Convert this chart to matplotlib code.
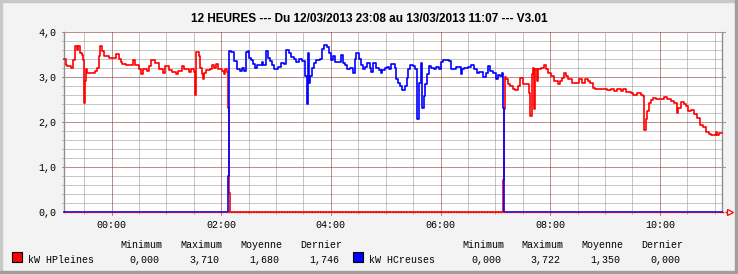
import numpy as np
import matplotlib.pyplot as plt
from matplotlib.patches import Rectangle

# --- Data (minutes since 12/03/2013 23:08, kW) ---
start_min = -52          # 23:08 relative to midnight
span_min = 720

hp_t = [0, 2, 3.6, 7.3, 9.5, 11.7, 13.9, 15.3, 17.5, 19.7, 20.8, 21.5, 22.6, 23.7, 25.5,
        34.3, 36.5, 38.0, 39.4, 41.6, 43.8, 48.9, 57.0, 60.6, 62.0, 63.5, 67.9, 75.2, 78.1,
        81.7, 84.7, 86.1, 91.2, 92.7, 95.6, 100.0, 103.6, 108.0, 111.0, 114.6, 118.2, 122.6,
        124.8, 129.2, 131.4, 136.5, 138.7, 142.0, 143.1, 144.5, 147.7, 148.4, 151.3, 152.4,
        153.5, 155.7, 159.4, 161.6, 163.7, 165.9, 168.1, 172.5, 174.7, 176.2, 178.7, 179.8,
        180.8, 182.0,
        480.6, 481.6, 482.2, 483.7, 485.5, 488.4, 491.0, 493.5, 496.5, 499.4, 502.3, 506.0,
        509.2, 510.3, 511.8, 513.2, 514.0, 515.4, 517.6, 519.1, 522.0, 524.9, 527.5, 530.0,
        533.0, 536.6, 540.3, 543.2, 544.6, 546.8, 549.4, 551.9, 555.6, 560.3, 564.0, 566.5,
        570.2, 573.1, 576.0, 578.6, 581.1, 585.4, 590.9, 594.5, 598.2, 601.8, 605.5, 609.1,
        612.0, 614.6, 620.1, 623.0, 627.4, 631.0, 633.2, 634.7, 636.5, 638.3, 640.1, 642.7,
        644.9, 647.4, 652.9, 656.5, 660.2, 663.9, 667.5, 670.4, 672.2, 674.8, 678.5, 680.3,
        682.8, 686.5, 689.4, 692.3, 696.0, 699.6, 702.5, 705.8, 707.6, 713.1, 714.9, 716.8,
        720]
hp_kw = [3.41, 3.26, 3.24, 3.20, 3.38, 3.69, 3.60, 3.69, 3.54, 3.48, 3.38, 2.43, 2.91, 3.17, 3.10,
         3.14, 3.21, 3.47, 3.69, 3.58, 3.47, 3.43, 3.52, 3.41, 3.33, 3.28, 3.26, 3.38, 3.26,
         3.17, 3.07, 3.17, 3.14, 3.24, 3.38, 3.32, 3.18, 3.08, 3.24, 3.16, 3.11, 3.06,
         3.13, 3.24, 3.17, 3.11, 3.17, 3.11, 2.61, 3.56, 3.47, 3.21, 3.06, 2.96,
         3.10, 3.16, 3.17, 3.26, 3.21, 3.30, 3.17, 3.13, 3.06, 3.17, 3.11, 2.32,
         0.42, 0.0,
         0.72, 2.30, 3.01, 2.95, 2.84, 2.79, 2.74, 2.71, 2.80, 2.98, 2.84, 2.84,
         2.65, 2.13, 3.06, 3.21, 2.28, 3.17, 2.91, 3.17, 3.21, 3.26, 3.17, 3.10,
         3.02, 2.91, 2.84, 2.91, 2.98, 3.10, 3.02, 2.96, 2.87, 2.87, 2.95, 2.86,
         2.95, 2.91, 2.87, 2.76, 2.73, 2.73, 2.74, 2.71, 2.73, 2.69, 2.73, 2.69,
         2.74, 2.67, 2.65, 2.61, 2.64, 2.61, 2.58, 1.82, 2.06, 2.25, 2.43, 2.50,
         2.54, 2.52, 2.52, 2.56, 2.52, 2.47, 2.43, 2.21, 2.32, 2.45, 2.39, 2.36,
         2.25, 2.27, 2.17, 2.10, 1.93, 1.88, 1.77, 1.73, 1.71, 1.77, 1.71, 1.746,
         1.746]

hc_t = [0, 179.6, 180.5, 182.7, 186.4, 189.3, 192.6, 195.1, 197.3, 198.8, 201.0, 202.4, 204.6,
        207.2, 209.0, 210.8, 216.3, 218.1, 220.7, 222.9, 225.4, 228.0, 230.2, 234.6, 237.5,
        241.1, 242.6, 246.2, 248.4, 251.3, 254.3, 257.2, 260.8, 263.8, 265.6, 266.7, 268.1,
        269.6, 271.1, 273.2, 275.4, 280.2, 282.7, 284.9, 287.5, 290.0, 292.6, 294.7, 296.2,
        302.8, 305.3, 307.9, 310.1, 312.6, 316.3, 318.1, 319.9, 322.5, 325.4, 327.2, 329.8,
        331.9, 334.5, 336.4, 338.2, 341.8, 344.4, 346.6, 348.0, 351.0, 353.9, 355.3, 358.3,
        361.9, 363.7, 365.5, 367.4, 369.9, 372.9, 375.0, 376.5, 378.3, 382.0, 384.5, 386.7,
        388.2, 390.4, 391.8, 394.0, 395.5, 397.7, 399.5, 402.1, 405.0, 407.5, 410.1, 412.3,
        414.8, 421.0, 423.2, 429.4, 434.2, 435.0, 437.3, 439.9, 441.7, 445.4, 449.0, 451.9,
        454.5, 458.1, 461.8, 464.3, 466.5, 469.1, 472.7, 475.3, 477.5, 478.9, 480.4, 481.1,
        720]
hc_kw = [0.0, 0.79, 3.58, 3.56, 3.36, 3.17, 3.14, 3.21, 3.14, 3.56, 3.58, 3.43, 3.38,
         3.28, 3.21, 3.26, 3.33, 3.26, 3.58, 3.43, 3.36, 3.26, 3.17, 3.23, 3.32,
         3.30, 3.61, 3.53, 3.45, 3.39, 3.33, 3.39, 3.36, 3.02, 2.39, 3.54, 2.87,
         3.02, 3.21, 3.32, 3.38, 3.39, 3.63, 3.72, 3.67, 3.54, 3.38, 3.47, 3.33,
         3.50, 3.32, 3.26, 3.17, 3.19, 3.08, 3.39, 3.53, 3.41, 3.26, 3.17, 3.23,
         3.32, 3.21, 3.11, 3.32, 3.21, 3.16, 3.10, 3.16, 3.21, 3.23, 3.17, 3.30,
         3.21, 2.95, 2.87, 2.80, 2.71, 2.80, 2.98, 3.17, 3.26, 3.24, 3.17, 2.06,
         2.87, 3.32, 2.32, 2.58, 2.84, 3.06, 3.24, 3.21, 3.17, 3.23, 3.17, 3.33,
         3.38, 3.36, 3.17, 3.23, 3.06, 3.17, 3.21, 3.19, 3.23, 3.26, 3.17, 3.08,
         3.11, 3.01, 3.10, 3.24, 3.13, 3.10, 2.96, 3.04, 3.02, 3.10, 2.32, 0.0,
         0.0]

x_labels = ["00:00", "02:00", "04:00", "06:00", "08:00", "10:00"]
x_major = [0, 120, 240, 360, 480, 600]
y_major = [0, 1, 2, 3, 4]

title = "12 HEURES --- Du 12/03/2013 23:08 au 13/03/2013 11:07 --- V3.01"
stat_names = ["Minimum", "Maximum", "Moyenne", "Dernier"]
hp_stats = ["0,000", "3,710", "1,680", "1,746"]
hc_stats = ["0,000", "3,722", "1,350", "0,000"]

# --- Colours ---
back = "#f3f3f3"
mgrid = "#7f1e1e"
grid = "#8f8f8f"
mono = "Liberation Mono"

W, H = 738, 274
fig = plt.figure(figsize=(W / 100, H / 100), dpi=100, facecolor=back)

# frame shading
fig.patches.append(Rectangle((0, 0), 2 / W, 1, transform=fig.transFigure, color="#c8c8c8", zorder=0))
fig.patches.append(Rectangle((0, 1 - 2 / H), 1, 2 / H, transform=fig.transFigure, color="#c8c8c8", zorder=0))
fig.patches.append(Rectangle((1 - 3 / W, 0), 3 / W, 1, transform=fig.transFigure, color="#9e9e9e", zorder=0))
fig.patches.append(Rectangle((0, 0), 1, 3 / H, transform=fig.transFigure, color="#9e9e9e", zorder=0))

ax = fig.add_axes([64 / W, 62 / H, 658 / W, 180 / H])
ax.set_facecolor("white")
ax.set_xlim(start_min, start_min + span_min)
ax.set_ylim(0, 4)
for s in ax.spines.values():
    s.set_visible(False)

ytr = ax.get_yaxis_transform()
xtr = ax.get_xaxis_transform()
dx = 1 / 658
dy = 1 / 180
dots = dict(lw=0.72, ls=(0, (1, 1)), clip_on=False, snap=True)

# horizontal grid
for v in np.arange(0.2, 4.0, 0.2):
    if abs(v - round(v)) < 1e-6:
        continue
    ax.plot([-2 * dx, 1], [v, v], transform=ytr, color=grid, zorder=1, **dots)
for v in y_major[1:]:
    ax.plot([-2 * dx, 1 + 3 * dx], [v, v], transform=ytr, color=mgrid, zorder=2, **dots)

# vertical grid
for m in range(-30, 661, 30):
    if m in x_major:
        continue
    ax.plot([m, m], [-2 * dy, 1], transform=xtr, color=grid, zorder=1, **dots)
for m in x_major:
    ax.plot([m, m], [-3 * dy, 1], transform=xtr, color=mgrid, zorder=2, **dots)

# axes lines
ax.plot([0, 0], [0, 1], transform=ax.transAxes, color=grid, lw=1.0, clip_on=False, zorder=3)
ax.plot([1, 1], [0, 1], transform=ax.transAxes, color=grid, lw=1.0, clip_on=False, zorder=3)
ax.plot([1 + 8 * dx], [0], transform=ax.transAxes, marker=">", ms=5, mfc="white", mec="red",
        mew=0.9, clip_on=False, zorder=4)

# data
t_hp = np.array(hp_t) + start_min
t_hc = np.array(hc_t) + start_min
ax.plot(t_hp, hp_kw, drawstyle="steps-post", color="#ff0000", lw=1.2, zorder=5, clip_on=False)
ax.plot(t_hc, hc_kw, drawstyle="steps-post", color="#0000ff", lw=1.2, zorder=6, clip_on=False)
# red axis over the zero line
ax.plot([0, 1 + 6 * dx], [0, 0], transform=ax.transAxes, color="#e00000", lw=1.0,
        ls=(0, (1, 1)), snap=True, clip_on=False, zorder=7)

# ticks
ax.set_xticks(x_major)
ax.set_xticklabels(x_labels, fontfamily=mono, fontsize=7.2)
ax.set_yticks(y_major)
ax.set_yticklabels([f"{v:.1f}".replace(".", ",") for v in y_major], fontfamily=mono, fontsize=7.2)
ax.tick_params(axis="x", length=0, pad=6)
ax.tick_params(axis="y", length=0, pad=5.2)

# title
fig.text(369 / W, 1 - 19.5 / H, title, ha="center", va="center",
         fontfamily="Liberation Sans", fontweight="bold", fontsize=8.5)


# legend
def legend_block(x_sq, color, label, x_cols, stats):
    fig.patches.append(Rectangle((x_sq / W, 1 - 262 / H), 10 / W, 10 / H, transform=fig.transFigure,
                                 facecolor=color, edgecolor="black", lw=0.8))
    fig.text((x_sq + 16) / W, 1 - 260 / H, label, ha="left", va="center",
             fontfamily=mono, fontsize=7.2)
    for xc, name, val in zip(x_cols, stat_names, stats):
        fig.text(xc / W, 1 - 245 / H, name, ha="center", va="center", fontfamily=mono, fontsize=7.2)
        fig.text((xc + 3) / W, 1 - 260 / H, val, ha="center", va="center", fontfamily=mono, fontsize=7.2)


legend_block(12, "#ff0000", "kW HPleines", [141, 201, 261, 321], hp_stats)
legend_block(353, "#0000ff", "kW HCreuses", [483, 542, 602, 662], hc_stats)

fig.savefig("out.png", dpi=100, facecolor=back)
